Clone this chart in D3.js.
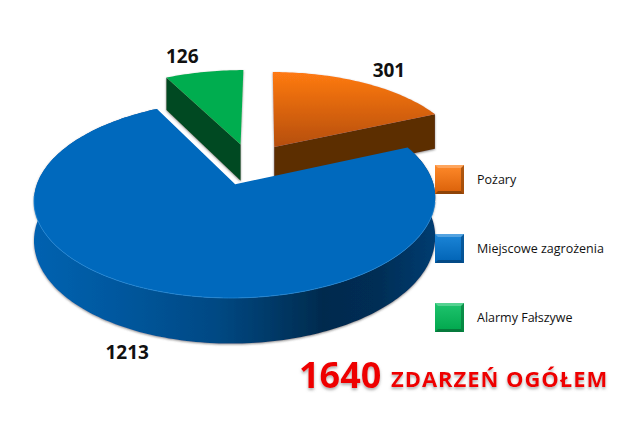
<!DOCTYPE html>
<html><head><meta charset="utf-8">
<script src="https://cdn.jsdelivr.net/npm/d3@7"></script>
<style>html,body{margin:0;padding:0;background:#fff}svg{display:block}</style></head>
<body><div id="c"></div>
<script>
const categories = ["Pożary", "Miejscowe zagrożenia", "Alarmy Fałszywe"];
const values = [301, 1213, 126];
const titleNumber = "1640";
const titleText = "ZDARZEŃ OGÓŁEM";

const W = 644, H = 435;
const explode = 0.23, persp = 0.146, depth = 37.5, shear = 1.5;
const x = d3.scaleLinear().domain([-1, 1]).range([249 - 192, 249 + 192]);
const y = d3.scaleLinear().domain([-1, 1]).range([164 + 90.5, 164 - 90.5]);
const labelNudge = [[25, -12], [-28, 17], [-22, -15]];
const legendTop = [165, 234, 303];

const svg = d3.select("#c").append("svg").attr("width", W).attr("height", H);
const defs = svg.append("defs");

function grad(id, stops, attrs) {
  const g = defs.append("linearGradient").attr("id", id).attr("gradientUnits", attrs.units || "objectBoundingBox")
    .attr("x1", attrs.x1).attr("y1", attrs.y1).attr("x2", attrs.x2).attr("y2", attrs.y2);
  stops.forEach(s => g.append("stop").attr("offset", s[0]).attr("stop-color", s[1]));
}
grad("oTop", [[0, "#ff7a12"], [1, "#b54e0a"]], {x1: 0, y1: 0, x2: 0, y2: 1});
grad("bWall", [[0, "#0062b0"], [0.2, "#00589f"], [0.45, "#004984"], [0.72, "#012b4e"], [0.85, "#012d54"], [1, "#023c70"]],
  {units: "userSpaceOnUse", x1: 35, y1: 0, x2: 435, y2: 0});
grad("lg0", [[0, "#ff8a2a"], [1, "#d95f08"]], {x1: 0, y1: 0, x2: 0, y2: 1});
grad("lg1", [[0, "#1c86d8"], [1, "#0062b4"]], {x1: 0, y1: 0, x2: 0, y2: 1});
grad("lg2", [[0, "#1fc46e"], [1, "#00a64c"]], {x1: 0, y1: 0, x2: 0, y2: 1});

const sh = defs.append("filter").attr("id", "sh").attr("x", "-10%").attr("y", "-10%").attr("width", "120%").attr("height", "125%");
sh.append("feDropShadow").attr("dx", 0).attr("dy", 1).attr("stdDeviation", 1.3).attr("flood-color", "#555").attr("flood-opacity", 0.65);
const ts = defs.append("filter").attr("id", "ts").attr("x", "-5%").attr("y", "-20%").attr("width", "110%").attr("height", "150%");
ts.append("feDropShadow").attr("dx", 0).attr("dy", 2).attr("stdDeviation", 1.5).attr("flood-color", "#777").attr("flood-opacity", 0.6);

const pie = d3.pie().sort(null).value(d => d);
const arcs = pie(values);

// disc coordinates -> screen, with ground-plane perspective
function project(u, v, down) {
  const w = 1 + persp * v;
  return [x(u / w) + shear * (1 + v), y(v / w) + (down ? depth / w : 0)];
}
function pt(a, r, mid, down) {
  const ox = explode * Math.sin(mid), oy = explode * Math.cos(mid);
  return project(ox + r * Math.sin(a), oy + r * Math.cos(a), down);
}
function arcPts(s, down) {
  const m = (s.startAngle + s.endAngle) / 2;
  return d3.range(s.startAngle, s.endAngle, 0.02).concat([s.endAngle]).map(a => pt(a, 1, m, down));
}
const line = d3.line();
const closed = p => line(p) + "Z";

const [oArc, bArc, gArc] = arcs;
const mid = s => (s.startAngle + s.endAngle) / 2;

// green slice: cut face + top
{
  const g = svg.append("g").attr("filter", "url(#sh)");
  const m = mid(gArc);
  g.append("path").attr("d", closed([
    pt(gArc.startAngle, 1, m, false), pt(0, 0, m, false), pt(0, 0, m, true), pt(gArc.startAngle, 1, m, true)
  ])).attr("fill", "#004a20");
  g.append("path").attr("d", closed([pt(0, 0, m, false), ...arcPts(gArc, false)])).attr("fill", "#00ad50");
}
// orange slice: cut face + top
{
  const g = svg.append("g").attr("filter", "url(#sh)");
  const m = mid(oArc);
  g.append("path").attr("d", closed([
    pt(oArc.endAngle, 1, m, false), pt(0, 0, m, false), pt(0, 0, m, true), pt(oArc.endAngle, 1, m, true)
  ])).attr("fill", "#5c2d06");
  g.append("path").attr("d", closed([pt(0, 0, m, false), ...arcPts(oArc, false)])).attr("fill", "url(#oTop)");
}
// blue slice: wall + top + highlight
{
  const g = svg.append("g");
  const top = arcPts(bArc, false), bot = arcPts(bArc, true);
  g.append("path").attr("d", closed([...top, ...bot.reverse()])).attr("fill", "url(#bWall)").attr("filter", "url(#sh)");
  g.append("path").attr("d", closed([pt(0, 0, mid(bArc), false), ...top])).attr("fill", "#0069bd");
  const front = top.filter((p, i) => {
    const a = bArc.startAngle + i * 0.02;
    return a > 1.75 && a < 4.6;
  });
  g.append("path").attr("d", line(front)).attr("fill", "none").attr("stroke", "#1f86d6").attr("stroke-width", 0.8);
}

// value labels
const labelFont = "'Open Sans', sans-serif";
arcs.forEach((s, i) => {
  const m = mid(s);
  const p = pt(m, 1, m, i === 1);
  svg.append("text").attr("x", p[0] + labelNudge[i][0]).attr("y", p[1] + labelNudge[i][1] + 6)
    .attr("text-anchor", "middle").attr("font-family", labelFont).attr("font-weight", 700)
    .attr("font-size", 19).attr("fill", "#111").text(values[i]);
});

// legend
const edge = ["#8f4408", "#044a86", "#067a3c"];
categories.forEach((c, i) => {
  const t = legendTop[i], l = 435, sz = 29;
  svg.append("rect").attr("x", l).attr("y", t).attr("width", sz).attr("height", sz)
    .attr("fill", `url(#lg${i})`);
  svg.append("path").attr("d", closed([[l, t + sz], [l + 3, t + sz - 3], [l + sz - 3, t + sz - 3], [l + sz, t + sz]])).attr("fill", edge[i]);
  svg.append("path").attr("d", closed([[l + sz, t], [l + sz - 3, t + 3], [l + sz - 3, t + sz - 3], [l + sz, t + sz]])).attr("fill", edge[i]).attr("opacity", 0.7);
  svg.append("path").attr("d", closed([[l, t], [l + sz, t], [l + sz - 3, t + 3], [l + 3, t + 3]])).attr("fill", "#fff").attr("opacity", 0.25);
  svg.append("text").attr("x", 477).attr("y", t + 19).attr("font-family", "'Open Sans', sans-serif")
    .attr("font-size", 12.5).attr("fill", "#111").text(c);
});

// headline
const head = svg.append("g").attr("filter", "url(#ts)").attr("fill", "#ee0000")
  .attr("font-family", "'Open Sans', sans-serif").attr("font-weight", 700);
head.append("text").attr("x", 299).attr("y", 388).attr("font-size", 36).text(titleNumber);
head.append("text").attr("x", 391).attr("y", 387).attr("font-size", 22).attr("letter-spacing", 0.95).text(titleText);
</script></body></html>
